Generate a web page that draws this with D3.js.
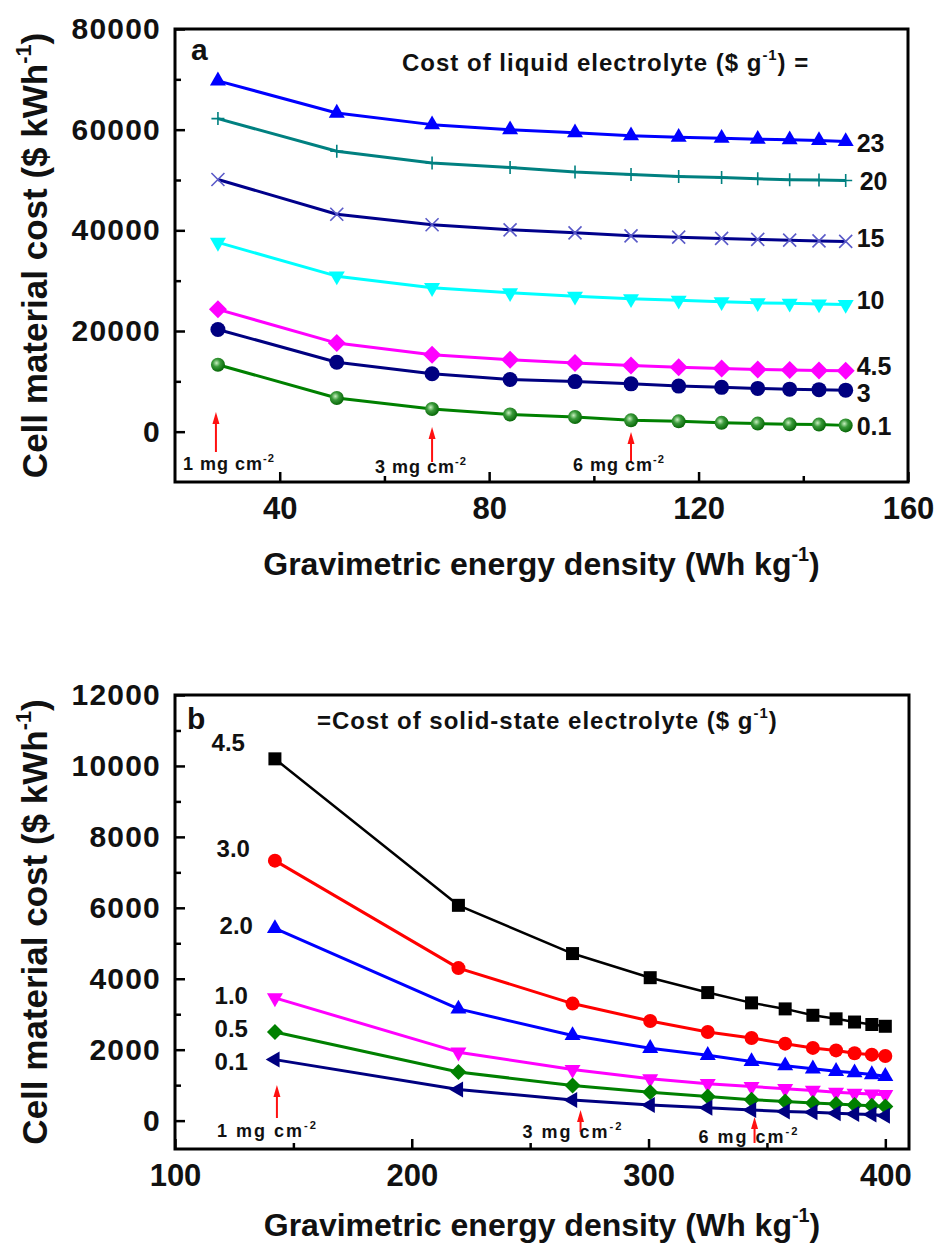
<!DOCTYPE html>
<html>
<head>
<meta charset="utf-8">
<script src="https://cdn.jsdelivr.net/npm/d3@7"></script>
<style>
  html, body { margin: 0; padding: 0; background: #fff; }
  svg { display: block; }
  text { font-family: "Liberation Sans", Arial, sans-serif; font-weight: bold; fill: #111; }
</style>
</head>
<body>
<svg id="chart" width="938" height="1245"></svg>
<script>
// ---------------- DATA ----------------
// Panel a: liquid electrolyte
const xA = [28.2, 50.9, 69.1, 84.0, 96.4, 107.1, 116.2, 124.4, 131.3, 137.4, 143.0, 148.1];
const a_cost23 = [69700, 63300, 61000, 60000, 59400, 58800, 58500, 58300, 58100, 58000, 57850, 57650];
const a_cost20 = [62200, 55700, 53400, 52500, 51600, 51100, 50700, 50500, 50250, 50050, 49980, 49900];
const a_cost15 = [50100, 43200, 41100, 40100, 39500, 38900, 38650, 38400, 38200, 38050, 37900, 37800];
const a_cost10 = [37600, 30900, 28600, 27600, 26900, 26400, 26100, 25800, 25600, 25500, 25350, 25250];
const a_cost4_5 = [24300, 17600, 15300, 14300, 13650, 13150, 12800, 12550, 12350, 12250, 12150, 12100];
const a_cost3 = [20300, 13800, 11500, 10350, 9950, 9500, 9050, 8800, 8600, 8450, 8350, 8250];
const a_cost0_1 = [13300, 6700, 4500, 3400, 2900, 2250, 2050, 1750, 1600, 1450, 1400, 1250];
const a_labels = ["23", "20", "15", "10", "4.5", "3", "0.1"];
const a_xTicks = [40, 80, 120, 160];
const a_xMinor = [60, 100, 140];
const a_yTicks = [0, 20000, 40000, 60000, 80000];
const a_yMinor = [10000, 30000, 50000, 70000];

// Panel b: solid-state electrolyte
const xB = [142.2, 219.7, 267.9, 300.7, 325.0, 343.5, 357.7, 369.4, 379.2, 387.0, 394.3, 400.0];
const b_cost4_5 = [10200, 6070, 4710, 4030, 3610, 3320, 3150, 2970, 2870, 2780, 2710, 2660];
const b_cost3_0 = [7330, 4300, 3300, 2810, 2500, 2330, 2170, 2050, 1980, 1900, 1860, 1820];
const b_cost2_0 = [5420, 3150, 2400, 2040, 1840, 1670, 1550, 1460, 1390, 1350, 1300, 1250];
const b_cost1_0 = [3460, 1930, 1440, 1180, 1040, 960, 900, 850, 800, 770, 750, 730];
const b_cost0_5 = [2500, 1370, 990, 800, 680, 590, 540, 500, 470, 440, 420, 400];
const b_cost0_1 = [1720, 880, 580, 440, 360, 300, 260, 235, 210, 190, 170, 140];
const b_labels = ["4.5", "3.0", "2.0", "1.0", "0.5", "0.1"];
const b_xTicks = [100, 200, 300, 400];
const b_xMinor = [150, 250, 350];
const b_yTicks = [0, 2000, 4000, 6000, 8000, 10000, 12000];
const b_yMinor = [1000, 3000, 5000, 7000, 9000, 11000];

// loading markers (index into x arrays) and their labels
const loadingIdx = [0, 2, 5];
const loadingText = ["1 mg cm", "3 mg cm", "6 mg cm"];

// ---------------- DRAW ----------------
const svg = d3.select("#chart");
const defs = svg.append("defs");
const grad = defs.append("radialGradient").attr("id", "greenBall")
  .attr("cx", "40%").attr("cy", "38%").attr("r", "60%");
grad.append("stop").attr("offset", "0%").attr("stop-color", "#c8f0c0");
grad.append("stop").attr("offset", "45%").attr("stop-color", "#3a9a3a");
grad.append("stop").attr("offset", "100%").attr("stop-color", "#0a6a0a");

// marker shape generators (relative to center)
const shapes = {
  triUp: r => { const h = r * Math.sqrt(3); return `M0,${-2*h/3}L${r},${h/3}L${-r},${h/3}Z`; },
  triDown: r => { const h = r * Math.sqrt(3); return `M0,${2*h/3}L${r},${-h/3}L${-r},${-h/3}Z`; },
  triLeft: r => { const h = r * Math.sqrt(3); return `M${-2*h/3},0L${h/3},${-r}L${h/3},${r}Z`; },
  diamond: r => `M0,${-r}L${r},0L0,${r}L${-r},0Z`,
  square: r => `M${-r},${-r}H${r}V${r}H${-r}Z`,
  circle: r => `M${r},0A${r},${r} 0 1,1 ${-r},0A${r},${r} 0 1,1 ${r},0Z`,
  plus: r => `M${-r},0H${r}M0,${-r}V${r}`,
  cross: r => `M${-r},${-r}L${r},${r}M${-r},${r}L${r},${-r}`
};

function richText(parent, x, y, segs, fs, extra) {
  const t = parent.append("text").attr("x", x).attr("y", y).attr("font-size", fs);
  if (extra) extra(t);
  let shift = 0;
  segs.forEach(s => {
    const ts = t.append("tspan").text(s.t);
    if (s.sup) { ts.attr("font-size", fs * 0.62).attr("dy", -fs * 0.45); shift = fs * 0.45; }
    else if (shift) { ts.attr("dy", shift); shift = 0; }
  });
  return t;
}

function drawPanel(cfg) {
  const g = svg.append("g");
  const x = d3.scaleLinear().domain(cfg.xDomain).range([cfg.left, cfg.right]);
  const y = d3.scaleLinear().domain(cfg.yDomain).range([cfg.bottom, cfg.top]);

  // axes (ticks pointing inward)
  const xAxis = g.append("g").attr("transform", `translate(0,${cfg.bottom})`)
    .call(d3.axisBottom(x).tickValues(cfg.xTicks).tickSize(-10).tickPadding(15).tickFormat(d3.format("d")));
  const xMin = g.append("g").attr("transform", `translate(0,${cfg.bottom})`)
    .call(d3.axisBottom(x).tickValues(cfg.xMinor).tickSize(-6).tickFormat(""));
  const yAxis = g.append("g").attr("transform", `translate(${cfg.left},0)`)
    .call(d3.axisLeft(y).tickValues(cfg.yTicks).tickSize(-10).tickPadding(14).tickFormat(d3.format("d")));
  const yMin = g.append("g").attr("transform", `translate(${cfg.left},0)`)
    .call(d3.axisLeft(y).tickValues(cfg.yMinor).tickSize(-6).tickFormat(""));
  [xAxis, xMin, yAxis, yMin].forEach(a => {
    a.select(".domain").remove();
    a.selectAll(".tick line").attr("stroke", "#000").attr("stroke-width", 2.5);
  });
  xAxis.selectAll(".tick text").attr("font-size", 31).attr("font-family", '"Liberation Sans", Arial, sans-serif')
    .attr("font-weight", "bold").attr("fill", "#111");
  yAxis.selectAll(".tick text").attr("font-size", 30).attr("font-family", '"Liberation Sans", Arial, sans-serif')
    .attr("font-weight", "bold").attr("fill", "#111").attr("letter-spacing", 1.2);

  // frame
  g.append("rect").attr("x", cfg.left).attr("y", cfg.top)
    .attr("width", cfg.right - cfg.left).attr("height", cfg.bottom - cfg.top)
    .attr("fill", "none").attr("stroke", "#000").attr("stroke-width", 3);

  // series
  cfg.series.forEach(s => {
    const pts = cfg.xs.map((xv, i) => [x(xv), y(s.values[i])]);
    g.append("path").attr("d", d3.line()(pts)).attr("fill", "none")
      .attr("stroke", s.line).attr("stroke-width", s.lw || 3).attr("stroke-linejoin", "round");
    g.selectAll(null).data(pts).enter().append("path")
      .attr("transform", d => `translate(${d[0]},${d[1]})`)
      .attr("d", shapes[s.shape](s.r))
      .attr("fill", s.stroked ? "none" : s.fill)
      .attr("stroke", s.stroked ? s.fill : "none")
      .attr("stroke-width", s.stroked ? 1.6 : 0);
    // series label
    const li = s.labelAt === "start" ? 0 : cfg.xs.length - 1;
    g.append("text")
      .attr("x", x(cfg.xs[li]) + s.ldx)
      .attr("y", y(s.values[li]) + s.ldy)
      .attr("dy", "0.36em")
      .attr("text-anchor", s.labelAt === "start" ? "end" : "start")
      .attr("font-size", s.lfs)
      .text(s.label);
  });

  // loading arrows
  loadingIdx.forEach((idx, k) => {
    const ax = x(cfg.xs[idx]) + cfg.arrows[k].dx;
    const top = cfg.arrows[k].top, bot = cfg.arrows[k].bot;
    g.append("line").attr("x1", ax).attr("x2", ax).attr("y1", top + 8).attr("y2", bot)
      .attr("stroke", "#ff1010").attr("stroke-width", 2);
    g.append("path").attr("d", `M${ax},${top}L${ax + 3.5},${top + 12}L${ax - 3.5},${top + 12}Z`).attr("fill", "#ff1010");
    richText(g, ax + cfg.arrows[k].tdx, cfg.arrows[k].ty,
      [{ t: loadingText[k] }, { t: "-2", sup: true }], cfg.arrowFs,
      t => t.attr("letter-spacing", cfg.arrowLs));
  });

  // panel letter & header
  g.append("text").attr("x", cfg.letterX).attr("y", cfg.letterY).attr("font-size", 30).text(cfg.letter);
  richText(g, cfg.headX, cfg.headY, cfg.head, 24, t => t.attr("letter-spacing", 1.0));

  // axis titles
  richText(g, (cfg.left + cfg.right) / 2, cfg.xTitleY,
    [{ t: "Gravimetric energy density (Wh kg" }, { t: "-1", sup: true }, { t: ")" }], 32,
    t => t.attr("text-anchor", "middle"));
  richText(g, 0, 0,
    [{ t: "Cell material cost ($ kWh" }, { t: "-1", sup: true }, { t: ")" }], 35,
    t => t.attr("text-anchor", "middle")
      .attr("transform", `translate(47,${(cfg.top + cfg.bottom) / 2}) rotate(-90)`));
}

drawPanel({
  left: 175, right: 908, top: 29, bottom: 482,
  xDomain: [20, 160], yDomain: [-10000, 80000],
  xTicks: a_xTicks, xMinor: a_xMinor, yTicks: a_yTicks, yMinor: a_yMinor,
  xs: xA,
  series: [
    { values: a_cost23, label: a_labels[0], line: "#0000ff", fill: "#0000ff", shape: "triUp", r: 8, ldx: 11, ldy: 2, lfs: 25 },
    { values: a_cost20, label: a_labels[1], line: "#008080", fill: "#008080", shape: "plus", r: 6.5, stroked: true, ldx: 14, ldy: 0, lfs: 25 },
    { values: a_cost15, label: a_labels[2], line: "#00008b", fill: "#5a5ac8", shape: "cross", r: 6.5, stroked: true, ldx: 11, ldy: -3, lfs: 25 },
    { values: a_cost10, label: a_labels[3], line: "#00ffff", fill: "#00ffff", shape: "triDown", r: 8, ldx: 11, ldy: -5, lfs: 25 },
    { values: a_cost4_5, label: a_labels[4], line: "#ff00ff", fill: "#ff00ff", shape: "diamond", r: 9, ldx: 11, ldy: -5, lfs: 25 },
    { values: a_cost3, label: a_labels[5], line: "#000080", fill: "#000080", shape: "circle", r: 7.5, ldx: 11, ldy: 3, lfs: 25 },
    { values: a_cost0_1, label: a_labels[6], line: "#008000", fill: "url(#greenBall)", shape: "circle", r: 7, ldx: 11, ldy: 1, lfs: 25 }
  ],
  arrows: [
    { dx: -2, top: 412, bot: 452, tdx: -33, ty: 470 },
    { dx: 0, top: 427, bot: 462, tdx: -57, ty: 473 },
    { dx: 0, top: 432, bot: 462, tdx: -58, ty: 471 }
  ],
  arrowFs: 18, arrowLs: 1,
  letter: "a", letterX: 191, letterY: 60,
  headX: 402, headY: 71,
  head: [{ t: "Cost of liquid electrolyte ($ g" }, { t: "-1", sup: true }, { t: ") =" }],
  xTitleY: 575
});

drawPanel({
  left: 175, right: 909, top: 695, bottom: 1149,
  xDomain: [100, 410], yDomain: [-800, 12000],
  xTicks: b_xTicks, xMinor: b_xMinor, yTicks: b_yTicks, yMinor: b_yMinor,
  xs: xB,
  series: [
    { values: b_cost4_5, label: b_labels[0], line: "#000000", fill: "#000000", shape: "square", r: 6.5, lw: 2.5, labelAt: "start", ldx: -30, ldy: -16, lfs: 24 },
    { values: b_cost3_0, label: b_labels[1], line: "#ff0000", fill: "#ff0000", shape: "circle", r: 7, labelAt: "start", ldx: -25, ldy: -12, lfs: 24 },
    { values: b_cost2_0, label: b_labels[2], line: "#0000ff", fill: "#0000ff", shape: "triUp", r: 8, labelAt: "start", ldx: -22, ldy: -3, lfs: 24 },
    { values: b_cost1_0, label: b_labels[3], line: "#ff00ff", fill: "#ff00ff", shape: "triDown", r: 8, labelAt: "start", ldx: -27, ldy: -3, lfs: 24 },
    { values: b_cost0_5, label: b_labels[4], line: "#008000", fill: "#008000", shape: "diamond", r: 8, labelAt: "start", ldx: -27, ldy: -4, lfs: 24 },
    { values: b_cost0_1, label: b_labels[5], line: "#000080", fill: "#000080", shape: "triLeft", r: 8, labelAt: "start", ldx: -27, ldy: 2, lfs: 24 }
  ],
  arrows: [
    { dx: 2, top: 1085, bot: 1118, tdx: -60, ty: 1137 },
    { dx: 8, top: 1110, bot: 1132, tdx: -58, ty: 1138 },
    { dx: 3, top: 1117, bot: 1143, tdx: -56, ty: 1143 }
  ],
  arrowFs: 18, arrowLs: 2,
  letter: "b", letterX: 187, letterY: 729,
  headX: 317, headY: 729,
  head: [{ t: "=Cost of solid-state electrolyte ($ g" }, { t: "-1", sup: true }, { t: ")" }],
  xTitleY: 1236
});
</script>
</body>
</html>
